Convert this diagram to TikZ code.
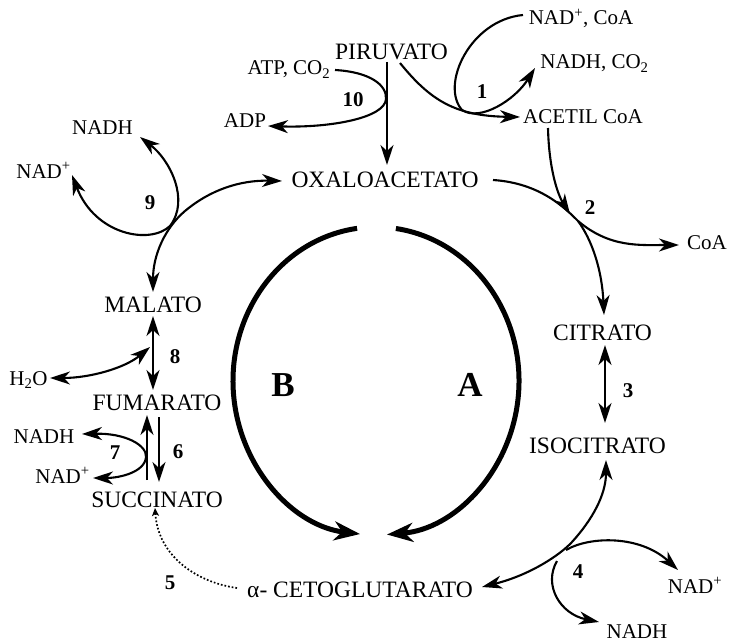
\documentclass[tikz,border=0pt]{standalone}
\usepackage{fontspec}
\setmainfont{Liberation Serif}
\usetikzlibrary{arrows.meta}
\tikzset{
  hd/.tip={Stealth[length=20pt,width=13pt,inset=6pt]},
  bighd/.tip={Stealth[length=26pt,width=19pt,inset=8pt]},
  smallhd/.tip={Stealth[length=8pt,width=7pt,inset=2pt]},
  met/.style={font=\fontsize{23.5}{28}\selectfont, inner sep=0pt, anchor=base},
  cof/.style={font=\fontsize{21}{25}\selectfont, inner sep=0pt, anchor=base},
  num/.style={font=\fontsize{21}{25}\selectfont\bfseries, inner sep=0pt},
  big/.style={font=\fontsize{35}{40}\selectfont\bfseries, inner sep=0pt, anchor=base},
  ln/.style={line width=2.1pt},
  rx/.style={ln, -hd},
  rxx/.style={ln, hd-hd},
  cyc/.style={line width=5pt, -bighd},
  dots/.style={line width=1.7pt, dotted, -smallhd},
}
\begin{document}
\begin{tikzpicture}[x=1pt,y=-1pt]
\useasboundingbox (0,0) rectangle (729,642);
% metabolites
\node[met] (piru) at (391.5,60) {PIRUVATO};
\node[met] (oxalo) at (385,187) {OXALOACETATO};
\node[cof] (acetil) at (583,124) {ACETIL CoA};
\node[met] (citrato) at (602.5,340) {CITRATO};
\node[met] (isocit) at (597.5,453) {ISOCITRATO};
\node[met] (aceto) at (360,597) {α- CETOGLUTARATO};
\node[met] (succ) at (157,507) {SUCCINATO};
\node[met] (fum) at (157,410) {FUMARATO};
\node[met] (mal) at (153,312) {MALATO};
% cofactors
\node[cof] (nadcoa) at (581,25) {NAD\textsuperscript{+}, CoA};
\node[cof] (nadhco) at (594.5,69) {NADH, CO\textsubscript{2}};
\node[cof] (atp) at (289,75) {ATP, CO\textsubscript{2}};
\node[cof] (adp) at (245,128) {ADP};
\node[cof] (coa) at (707,249) {CoA};
\node[cof] (nadp4) at (695,593) {NAD\textsuperscript{+}};
\node[cof] (nadh4) at (637,638) {NADH};
\node[cof] (nadp7) at (62.5,483) {NAD\textsuperscript{+}};
\node[cof] (nadh7) at (44,443) {NADH};
\node[cof] (h2o) at (28.5,385) {H\textsubscript{2}O};
\node[cof] (nadh9) at (102.5,135) {NADH};
\node[cof] (nadp9) at (43.5,178) {NAD\textsuperscript{+}};
% numbers
\node[num] (n1) at (482,92) {1};
\node[num] (n2) at (590,208) {2};
\node[num] (n3) at (628,391) {3};
\node[num] (n4) at (578,572) {4};
\node[num] (n5) at (170,583) {5};
\node[num] (n6) at (178,452) {6};
\node[num] (n7) at (115,453) {7};
\node[num] (n8) at (175,357) {8};
\node[num] (n9) at (150,203) {9};
\node[num] (n10) at (353,100) {10};
\node[big] (B) at (283,396) {B};
\node[big] (A) at (470,396) {A};
% big cycle
\coordinate (ctr) at (376,381);
\draw[cyc] (ctr) ++(262.4:143 and 154) arc[start angle=262.4, end angle=96.4, x radius=143, y radius=154];
\draw[cyc] (ctr) ++(-82:143 and 154) arc[start angle=-82, end angle=85.6, x radius=143, y radius=154];
% reaction 10 and piruvato -> oxaloacetato
\coordinate (p10a) at (387,62);
\coordinate (p10b) at (387,165);
\draw[rx] (p10a) -- (p10b);
\coordinate (atpE) at (335,70);
\coordinate (j10) at (386,99);
\coordinate (adpE) at (268,126);
\draw[rx] (atpE) .. controls (370,72) and (387,85) .. (j10) .. controls (385,118) and (330,128) .. (adpE);
% reaction 1
\coordinate (piruE) at (400,63);
\coordinate (acetW) at (520,117);
\draw[rx] (piruE) .. controls (430,100) and (455,116) .. (acetW);
\coordinate (nadcoaE) at (523,15);
\coordinate (j1) at (462,110);
\coordinate (nadhcoE) at (535,68);
\draw[rx] (nadcoaE) .. controls (470,20) and (440,85) .. (j1) .. controls (480,122) and (515,100) .. (nadhcoE);
% reaction 2
\coordinate (acetS) at (548,128);
\coordinate (j2a) at (570,214);
\draw[rx] (acetS) .. controls (549,170) and (558,195) .. (j2a);
\coordinate (oxaE) at (493,180);
\coordinate (j2) at (578,221);
\coordinate (coaW) at (679,245);
\draw[rx] (oxaE) .. controls (540,183) and (565,208) .. (j2) .. controls (610,248) and (640,245) .. (coaW);
\coordinate (citN) at (604,315);
\draw[rx] (j2) .. controls (592,240) and (602,270) .. (citN);
% reaction 3
\coordinate (citS) at (605,345);
\coordinate (isoN) at (605,423);
\draw[rxx] (citS) -- (isoN);
% reaction 4
\coordinate (isoS) at (606,460);
\coordinate (j4) at (572,542);
\coordinate (acetoE) at (482,587);
\draw[rxx] (acetoE) .. controls (530,575) and (560,555) .. (j4) .. controls (592,520) and (606,495) .. (isoS);
\coordinate (j4a) at (566,550);
\coordinate (nadp4W) at (678,570);
\draw[rx] (j4a) .. controls (590,536) and (640,535) .. (nadp4W);
\coordinate (j4b) at (557,561);
\coordinate (nadh4W) at (599,622);
\draw[rx] (j4b) .. controls (543,585) and (560,614) .. (nadh4W);
% reaction 5
\coordinate (acetoW) at (237,588);
\coordinate (succS) at (155,508);
\draw[dots] (acetoW) .. controls (195,582) and (158,555) .. (succS);
% reaction 6
\coordinate (s6a) at (147,480);
\coordinate (s6b) at (147,415);
\draw[rx] (s6a) -- (s6b);
\coordinate (f6a) at (159,417);
\coordinate (f6b) at (159,482);
\draw[rx] (f6a) -- (f6b);
% reaction 7
\coordinate (nadh7E) at (82,434);
\coordinate (j7) at (146,457);
\coordinate (nadp7E) at (93,478);
\draw[rxx] (nadh7E) .. controls (125,433) and (147,445) .. (j7) .. controls (145,472) and (120,478) .. (nadp7E);
% reaction 8
\coordinate (malS) at (153,316);
\coordinate (fumN) at (153,390);
\draw[rxx] (malS) -- (fumN);
\coordinate (h2oE) at (50,378);
\coordinate (j8) at (150,347);
\draw[rxx] (h2oE) .. controls (90,378) and (125,368) .. (j8);
% reaction 9
\coordinate (malN) at (153,292);
\coordinate (j9) at (185,211);
\coordinate (oxaW) at (282,181);
\draw[rxx] (malN) .. controls (153,255) and (165,228) .. (j9) .. controls (210,190) and (240,180) .. (oxaW);
\coordinate (nadh9E) at (140,137);
\coordinate (j9b) at (170,226);
\coordinate (nadp9E) at (72,175);
\draw[rxx] (nadh9E) .. controls (170,160) and (190,200) .. (j9b) .. controls (150,245) and (95,235) .. (nadp9E);
\end{tikzpicture}
\end{document}
